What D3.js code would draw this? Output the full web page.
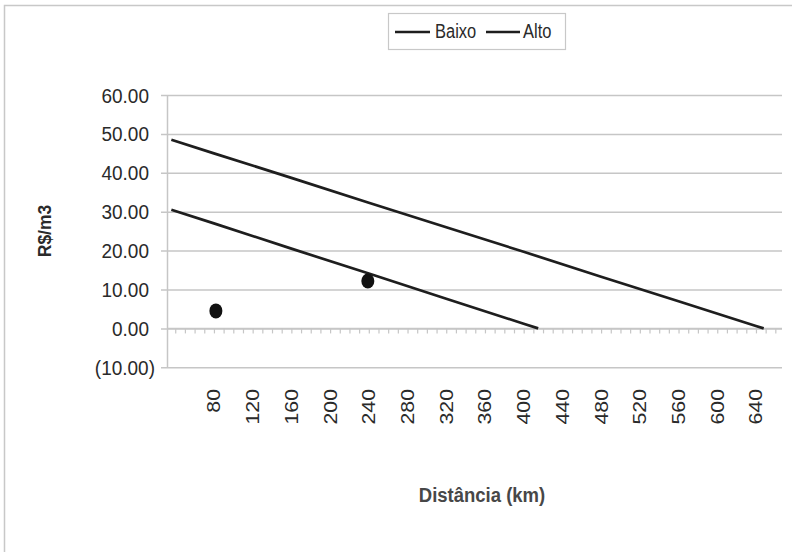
<!DOCTYPE html>
<html><head><meta charset="utf-8">
<script src="https://cdn.jsdelivr.net/npm/d3@7"></script>
<style>body{margin:0;background:#fff}</style>
</head><body>
<svg id="c" width="792" height="552"></svg>
<script>
// Data
const seriesNames = ["Baixo", "Alto"];
const baixoKm = [36, 80, 160, 240, 320, 400, 415];
const baixoVal = [30.5, 27.0, 20.5, 14.1, 7.6, 1.2, 0.0];
const altoKm = [36, 80, 160, 240, 320, 400, 480, 560, 640, 648];
const altoVal = [48.5, 45.0, 38.7, 32.3, 26.0, 19.7, 13.3, 7.0, 0.6, 0.0];
const pointKm = [82, 239];
const pointVal = [4.5, 12.2];
const yTicks = [-10, 0, 10, 20, 30, 40, 50, 60];
const xLabels = [80, 120, 160, 200, 240, 280, 320, 360, 400, 440, 480, 520, 560, 600, 640];
const xMinorTicks = d3.range(40, 670, 10);

const svg = d3.select("#c");
const L = 167, R = 782, T = 95, B = 367.3;
const x = d3.scaleLinear().domain([31.5, 666.9]).range([L, R]);
const y = d3.scaleLinear().domain([-10, 60]).range([B, T]);
const grid = "#c6c6c6";
const ink = "#1e1e1e";
const txt = "#2a2a2a";
const font = "'Liberation Sans', Arial, sans-serif";

// outer border
svg.append("rect").attr("x", 4.5).attr("y", 5.5).attr("width", 800).attr("height", 560)
  .attr("fill", "none").attr("stroke", "#c8c8c8").attr("stroke-width", 1.5);

// gridlines with left ticks
const yAxis = d3.axisLeft(y).tickValues(yTicks).tickSize(-(R - L)).tickSizeOuter(0).tickFormat("");
const gy = svg.append("g").attr("transform", `translate(${L},0)`).call(yAxis);
gy.select(".domain").attr("stroke", grid).attr("stroke-width", 1.5);
gy.selectAll(".tick line").attr("stroke", grid).attr("stroke-width", 1.5).attr("x1", -6);

// y tick labels (slightly tall glyphs, like the scanned original)
const fmt = d3.format(".2f");
svg.append("g").selectAll("text").data(yTicks).join("text")
  .attr("transform", d => `translate(${d < 0 ? 155 : 149},${y(d)}) scale(1,1.1)`)
  .attr("text-anchor", "end").attr("dy", "0.36em").attr("fill", txt)
  .style("font-family", font).style("font-size", "19px")
  .text(d => d < 0 ? "(" + fmt(-d) + ")" : fmt(d));

// zero axis with minor ticks
const xAxis = d3.axisBottom(x).tickValues(xMinorTicks).tickSize(5).tickSizeOuter(0).tickFormat("");
const gx = svg.append("g").attr("transform", `translate(0,${y(0)})`).call(xAxis);
gx.select(".domain").attr("stroke", grid).attr("stroke-width", 1.5).attr("d", `M${L},0H${R}`);
gx.selectAll(".tick line").attr("stroke", grid).attr("stroke-width", 1.2);

// x labels (rotated)
svg.append("g").selectAll("text").data(xLabels).join("text")
  .attr("transform", d => `translate(${x(d) + 6.5},389) scale(1,1.15) rotate(-90)`)
  .attr("text-anchor", "end").attr("fill", txt)
  .style("font-family", font).style("font-size", "18.5px")
  .text(d => d);

// lines
const line = d3.line().x(d => x(d[0])).y(d => y(d[1]));
svg.append("path").datum(baixoKm.map((k, i) => [k, baixoVal[i]]))
  .attr("d", line).attr("fill", "none").attr("stroke", ink).attr("stroke-width", 2.7);
svg.append("path").datum(altoKm.map((k, i) => [k, altoVal[i]]))
  .attr("d", line).attr("fill", "none").attr("stroke", ink).attr("stroke-width", 2.7);

// points
svg.append("g").selectAll("ellipse").data(pointKm).join("ellipse")
  .attr("cx", d => x(d)).attr("cy", (d, i) => y(pointVal[i]))
  .attr("rx", 6.5).attr("ry", 7.5).attr("fill", "#111");

// axis titles
svg.append("text").attr("transform", "translate(51,231) scale(1.05,1) rotate(-90)")
  .attr("text-anchor", "middle").attr("fill", txt)
  .style("font-family", font).style("font-size", "17.5px").style("font-weight", "bold")
  .text("R$/m3");
svg.append("text").attr("transform", "translate(482,502) scale(1,1.1)")
  .attr("text-anchor", "middle").attr("fill", "#474747")
  .style("font-family", font).style("font-size", "18.5px").style("font-weight", "bold")
  .text("Distância (km)");

// legend
const lg = svg.append("g");
lg.append("rect").attr("x", 388.5).attr("y", 13.5).attr("width", 177).attr("height", 36)
  .attr("fill", "#fff").attr("stroke", "#c8c8c8").attr("stroke-width", 1.2);
const items = [{n: seriesNames[0], x0: 395, x1: 430, tx: 435}, {n: seriesNames[1], x0: 486, x1: 520, tx: 523}];
items.forEach(it => {
  lg.append("line").attr("x1", it.x0).attr("x2", it.x1).attr("y1", 32).attr("y2", 32)
    .attr("stroke", ink).attr("stroke-width", 2.7);
  lg.append("text").attr("transform", `translate(${it.tx},37.5) scale(1,1.2)`).attr("fill", txt)
    .style("font-family", font).style("font-size", "16.5px")
    .text(it.n);
});
</script>
</body></html>
